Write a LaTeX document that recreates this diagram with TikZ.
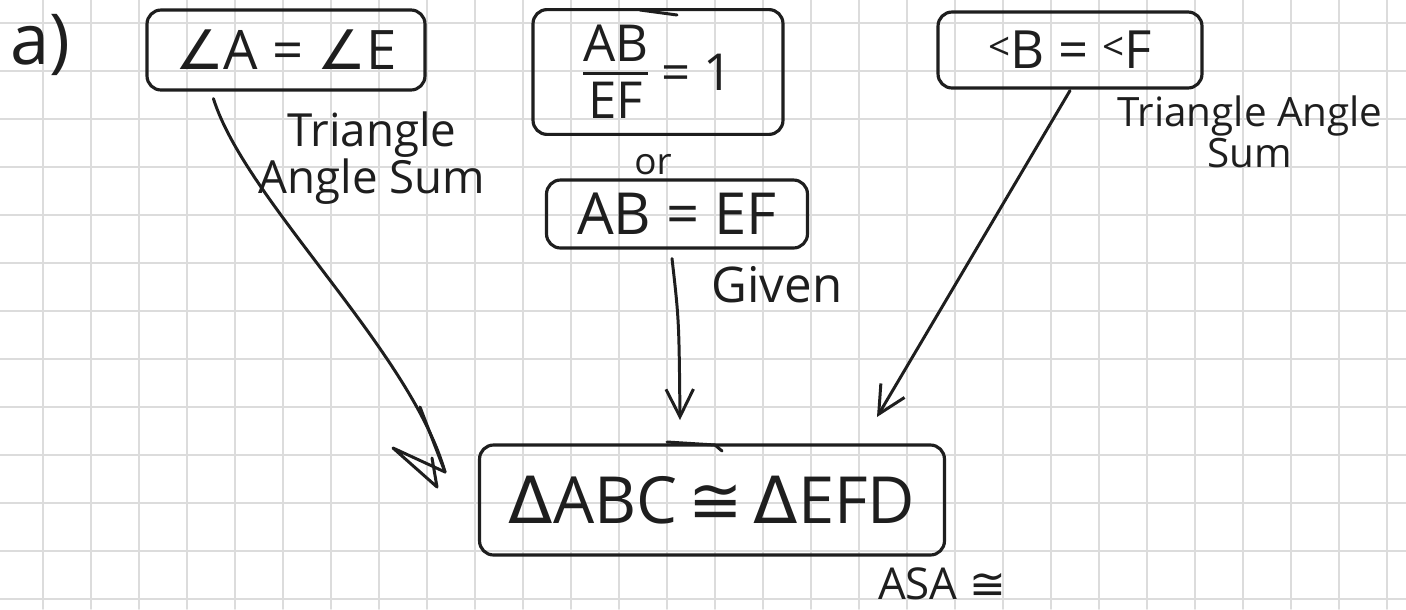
\documentclass[tikz,border=0pt]{standalone}
\usepackage{fontspec}
\setmainfont{Open Sans}
\newfontfamily\symfont{DejaVu Sans}
\usetikzlibrary{arrows.meta}

\definecolor{ink}{HTML}{1E1E1E}
\definecolor{gridline}{HTML}{DCDCDC}

\tikzset{
  claim/.style={draw=ink, line width=1.8pt, rounded corners=0.28cm,
    text=ink, inner sep=0pt},
  note/.style={text=ink, inner sep=0pt, align=center},
  wire/.style={draw=ink, line width=1.7pt},
  link/.style={wire, -{Straight Barb[length=0.55cm, width=0.55cm]}}
}

\newcommand{\angsym}{{\symfont ∠}}
\newcommand{\trisym}{{\symfont Δ}}
\newcommand{\congsym}{{\symfont ≅}}
\newcommand{\smallang}{{\fontsize{22}{22}\selectfont\raisebox{5pt}{<}}}

\begin{document}
\begin{tikzpicture}[
  x=0.02cm,
  y=-0.02cm,
  line cap=round,
  line join=round
]
  % Поле рисунка
  \useasboundingbox (0,0) rectangle (1406,609);
  \fill[white] (0,0) rectangle (1406,609);

  % Клетка тетради
  \foreach \gx in {0,...,28}
    \draw[gridline, line width=1pt] ({43+48*\gx},0) -- ({43+48*\gx},609);
  \foreach \gy in {0,...,12}
    \draw[gridline, line width=1pt] (0,{23+48*\gy}) -- (1406,{23+48*\gy});

  % Метка пункта
  \node[note, font=\fontsize{40}{40}\selectfont] (parta) at (40,45) {a)};

  % Посылки
  \node[claim, minimum width=5.56cm, minimum height=1.6cm,
    font=\fontsize{31}{34}\selectfont] (angA) at (286,50)
    {\angsym A = \angsym E};
  \node[claim, minimum width=5.0cm, minimum height=2.3cm,
    font=\fontsize{29}{30}\selectfont] (ratio) at (658,72)
    {\setlength{\arrayrulewidth}{1.5pt}%
     \rule{0pt}{46pt}\begin{tabular}{@{}c@{}}AB\\[-3pt]\hline\rule{0pt}{25pt}EF\end{tabular} = 1};
  \node[note, font=\fontsize{21}{22}\selectfont] (orword) at (653,165) {or};
  \node[claim, minimum width=5.22cm, minimum height=1.36cm,
    font=\fontsize{33}{34}\selectfont] (sides) at (677,214)
    {AB = EF};
  \node[claim, minimum width=5.28cm, minimum height=1.52cm,
    font=\fontsize{30}{32}\selectfont] (angB) at (1070,50)
    {\smallang B = \smallang F};

  % Вывод
  \node[claim, minimum width=9.3cm, minimum height=2.2cm,
    font=\fontsize{37}{40}\selectfont] (tri) at (712,500)
    {\trisym ABC\,\congsym\,\trisym EFD};

  % Обоснования
  \node[note, font=\fontsize{26}{24}\selectfont] (sumL) at (372,158)
    {Triangle\\Angle Sum};
  \node[note, font=\fontsize{23}{19}\selectfont] (sumR) at (1250,132)
    {Triangle Angle\\Sum};
  \node[note, font=\fontsize{28}{30}\selectfont] (given) at (777,285) {Given};
  \node[note, font=\fontsize{25}{26}\selectfont] (asa) at (942,584)
    {ASA \congsym};

  % Концы стрелок
  \coordinate (tipL) at (445,472);
  \coordinate (tipM) at (680,420);
  \coordinate (tipR) at (877,417);

  % Стрелки
  \draw[wire] ([xshift=1.36cm, yshift=-0.14cm]angA.south west)
    .. controls (245,200) and (410,350) .. (tipL);
  \draw[wire] (tipL) -- ++(-25,-65);
  \draw[wire] (tipL) -- (393,448) -- (437,487) -- (432,458);
  \draw[link] ([xshift=-0.1cm, yshift=-0.18cm]sides.south)
    .. controls (679,320) .. (tipM);
  \draw[link] ([yshift=-0.02cm]angB.south) -- (tipR);

  % Нахлёсты контура
  \draw[wire] (640,10) -- (677,15);
  \draw[wire] (667,442) -- (715,445) -- (722,451);
\end{tikzpicture}
\end{document}
